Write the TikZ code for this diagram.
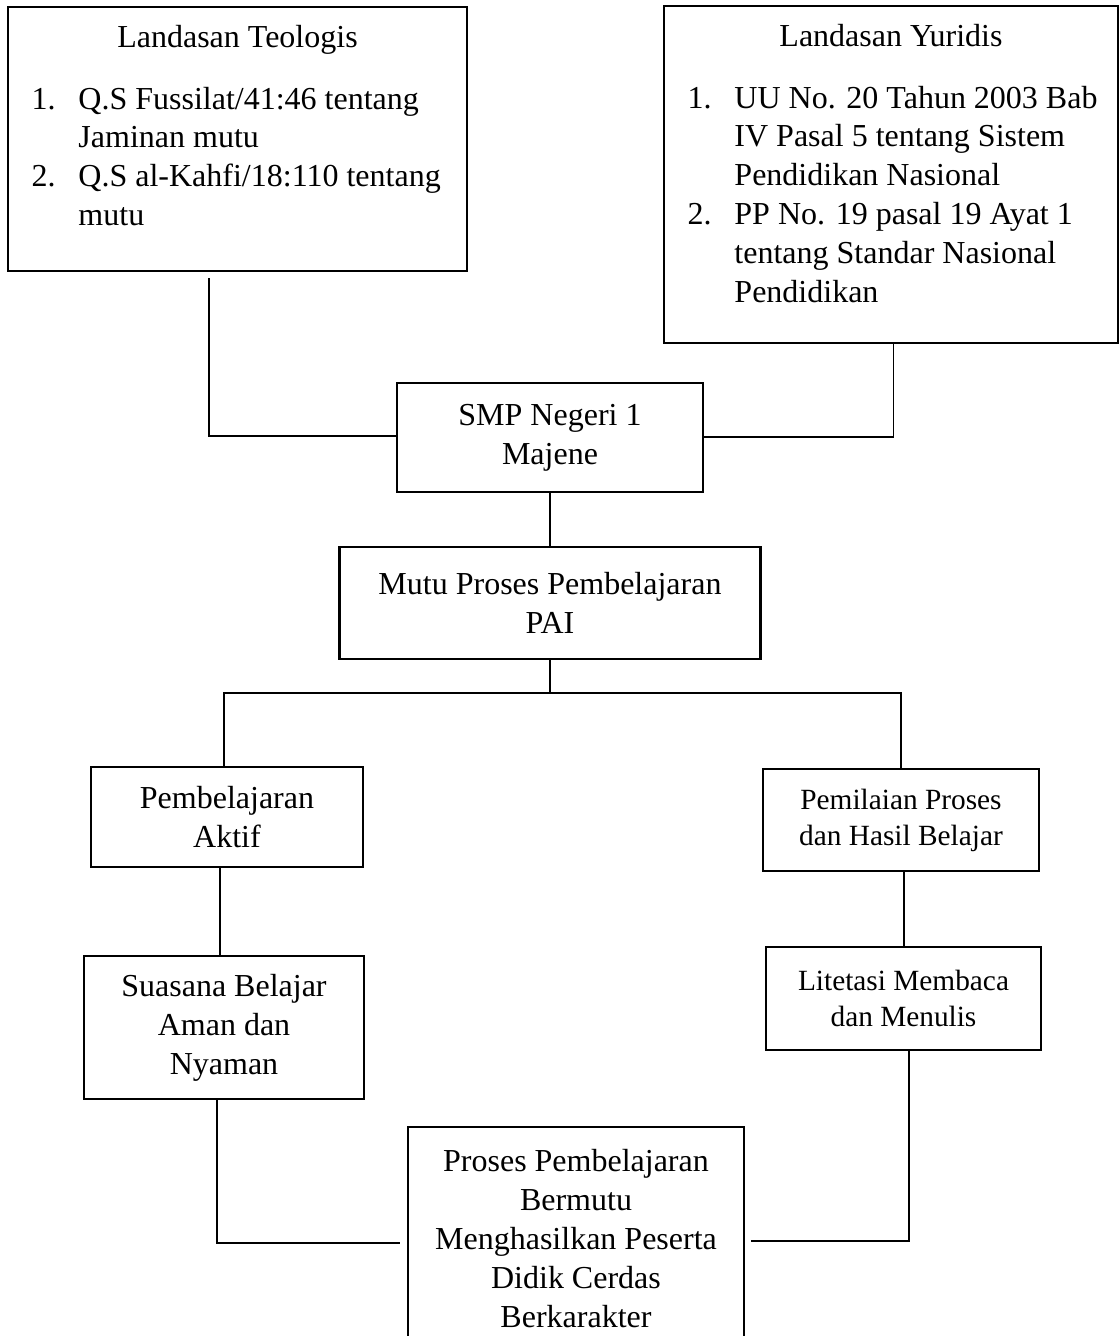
\documentclass[tikz,border=0pt]{standalone}
\usepackage{fontspec}
\setmainfont{Liberation Serif}
\begin{document}
\begin{tikzpicture}[x=0.375pt, y=-0.375pt,
    box/.style={draw, line width=0.9pt, inner sep=0pt, align=center, font=\fontsize{12}{14.6}\selectfont},
    smallbox/.style={box, font=\fontsize{11}{13.5}\selectfont},
    txt/.style={inner sep=0pt, font=\fontsize{12}{14.6}\selectfont},
    link/.style={line width=0.45pt}]
      \useasboundingbox (0,0) rectangle (1120,1336);
      \clip (0,0) rectangle (1120,1336);
      \node[box, minimum width=172.1pt, minimum height=99pt] (teo) at (237.5,139) {};
      \node[box, minimum width=170.3pt, minimum height=126.4pt] (yur) at (891,174.5) {};
      \node[txt, anchor=base] (teoTitle) at (237.5,47) {Landasan Teologis};
      \node[txt, anchor=base west] (teoList) at (31,109) {\begin{tabular}[t]{@{}p{17.6pt}@{}l@{}}1. & Q.S Fussilat/41:46 tentang\\ & Jaminan mutu\\ 2. & Q.S al-Kahfi/18:110 tentang\\ & mutu\end{tabular}};
      \node[txt, anchor=base] (yurTitle) at (891,46) {Landasan Yuridis};
      \node[txt, anchor=base west] (yurList) at (687,108) {\begin{tabular}[t]{@{}p{17.6pt}@{}l@{}}1. & UU No. 20 Tahun 2003 Bab\\ & IV Pasal 5 tentang Sistem\\ & Pendidikan Nasional\\ 2. & PP No. 19 pasal 19 Ayat 1\\ & tentang Standar Nasional\\ & Pendidikan\end{tabular}};
      \node[box, minimum width=114.8pt, minimum height=40.9pt] (smp) at (550,437.5) {SMP Negeri 1\\Majene};
      \node[box, minimum width=157.9pt, minimum height=42pt] (mutu) at (550,603) {Mutu Proses Pembelajaran\\PAI};
      \node[box, minimum width=102pt, minimum height=37.5pt] (aktif) at (227,817) {Pembelajaran\\Aktif};
      \node[smallbox, minimum width=103.5pt, minimum height=38.3pt] (nilai) at (901,820) {Pemilaian Proses\\dan Hasil Belajar};
      \node[box, minimum width=105pt, minimum height=53.6pt] (suasana) at (224,1027.5) {Suasana Belajar\\Aman dan\\Nyaman};
      \node[smallbox, minimum width=103.1pt, minimum height=38.6pt] (literasi) at (903.5,998.5) {Litetasi Membaca\\dan Menulis};
      \node[box, minimum width=126pt, minimum height=83.6pt] (hasil) at (576,1238.5) {Proses Pembelajaran\\Bermutu\\Menghasilkan Peserta\\Didik Cerdas\\Berkarakter};
      \coordinate (teoJoin) at (209,436);
      \coordinate (yurJoin) at (893.5,437);
      \coordinate (bus) at (550,693);
      \coordinate (busLeft) at (224,693);
      \coordinate (suaJoin) at (217,1243);
      \coordinate (litJoin) at (909,1241);
      \draw[link, shorten <=2.2pt] (teo.south -| teoJoin) -- (teoJoin) -- (teoJoin -| smp.west);
      \draw[link] (yur.south -| yurJoin) -- (yurJoin) -- (yurJoin -| smp.east);
      \draw[link] (mutu.south) -- (bus);
      \draw[link] (aktif.north -| busLeft) -- (busLeft) -| (nilai.north);
      \foreach \source/\dest/\xshiftval in {smp/mutu/0pt, aktif/suasana/-2.6pt, nilai/literasi/1.1pt}
        \draw[link] ([xshift=\xshiftval]\source.south) -- ([xshift=\xshiftval]\source.south |- \dest.north);
      \draw[link, shorten >=2.6pt] (suasana.south -| suaJoin) -- (suaJoin) -- (suaJoin -| hasil.west);
      \draw[link, shorten >=2.2pt] (literasi.south -| litJoin) -- (litJoin) -- (litJoin -| hasil.east);
\end{tikzpicture}
\end{document}
